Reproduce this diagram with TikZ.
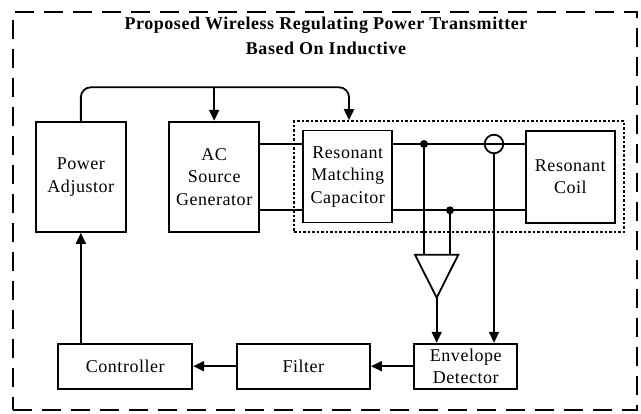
\documentclass[tikz,border=0pt]{standalone}
\usepackage{fontspec}
\setmainfont{Liberation Serif}[LetterSpace=3]
\usetikzlibrary{arrows.meta}
\begin{document}
\begin{tikzpicture}[x=1pt,y=-1pt,
  blk/.style={draw,line width=1.8pt,inner sep=0pt,align=center,font=\fontsize{18}{22.5}\selectfont},
  wire/.style={line width=1.8pt},
  arr/.style={wire,-{Triangle[length=11pt,width=10pt]}},
  jdot/.style={circle,fill,inner sep=0pt,minimum size=8pt},
  ttl/.style={font=\fontsize{18}{22}\selectfont\bfseries,inner sep=0pt}
]
\useasboundingbox (0,0) rectangle (641,414);
\node[draw,dash pattern=on 19pt off 10pt,line width=2pt,minimum width=623.4pt,minimum height=398pt,inner sep=0pt] (frame) at (325,210.7) {};
\node[ttl] (t1) at (326,25) {Proposed Wireless Regulating Power Transmitter};
\node[ttl] (t2) at (326,48.3) {Based On Inductive};

\node[draw,dash pattern=on 2.5pt off 2pt,line width=1.7pt,minimum width=329.7pt,minimum height=111pt,inner sep=0pt] (tank) at (459.15,176.5) {};

\node[blk,minimum width=89.7pt,minimum height=110.3pt] (pa) at (80.85,176.85) {Power\\Adjustor};
\node[blk,minimum width=89.7pt,minimum height=110.3pt] (ac) at (214.15,176.85) {AC\\Source\\Generator};
\node[blk,minimum width=89pt,minimum height=92pt] (rmc) at (347.8,176.6) {Resonant\\Matching\\Capacitor};
\node[blk,minimum width=89.3pt,minimum height=92.3pt] (coil) at (570.35,176.85) {Resonant\\Coil};
\node[blk,minimum width=134pt,minimum height=45pt] (ctrl) at (125.3,366.2) {Controller};
\node[blk,minimum width=133.3pt,minimum height=45pt] (filter) at (303.35,366.2) {Filter};
\node[blk,minimum width=103pt,minimum height=45pt] (env) at (465.8,366.2) {Envelope\\Detector};

\coordinate (yU) at (0,144);
\coordinate (yL) at (0,210.3);
\draw[wire] (ac.east |- yU) -- (rmc.west |- yU);
\draw[wire] (ac.east |- yL) -- (rmc.west |- yL);
\draw[wire] (rmc.east |- yU) -- (coil.west |- yU);
\draw[wire] (rmc.east |- yL) -- (coil.west |- yL);

\node[jdot] (d1) at (424,144) {};
\node[jdot] (d2) at (450,210.3) {};
\node[circle,draw,line width=1.8pt,minimum size=18.6pt,inner sep=0pt] (sens) at (494,144) {};

\coordinate (ampL) at (415,254.7);
\coordinate (ampR) at (458.3,254.7);
\coordinate (ampT) at (436.7,297.7);
\draw[line width=1.8pt,line join=miter] (ampL) -- (ampR) -- (ampT) -- cycle;
\draw[wire] (d1) -- (d1 |- ampL);
\draw[wire] (d2) -- (d2 |- ampL);
\draw[arr] (ampT) -- (ampT |- env.north);
\draw[arr] (sens.south) -- (sens.south |- env.north);
\draw[arr] (env.west) -- (filter.east);
\draw[arr] (filter.west) -- (ctrl.east);
\draw[arr] (pa.south |- ctrl.north) -- (pa.south);

\coordinate (fb1) at (349,87.3);
\draw[arr,rounded corners=10pt] (pa.north) |- (fb1) -- (fb1 |- tank.north);
\draw[arr] (ac.north |- fb1) -- (ac.north);
\end{tikzpicture}
\end{document}
